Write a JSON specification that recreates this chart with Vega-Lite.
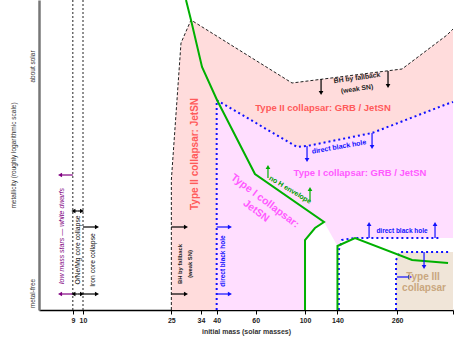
{
  "$schema": "https://vega.github.io/schema/vega-lite/v6.json",
  "width": 414,
  "height": 310,
  "autosize": {"type": "none"},
  "padding": {"left": 39, "top": 0, "right": 1, "bottom": 33},
  "background": "white",
  "config": {"view": {"stroke": null}, "font": "Liberation Sans"},
  "datasets": {
    "typeII": [
      {"x": 25, "y": 130}, {"x": 27.63, "y": 267}, {"x": 30.65, "y": 290}, {"x": 87.4, "y": 227},
      {"x": 273.5, "y": 241}, {"x": 436.2, "y": 275}, {"x": 464, "y": 281}
    ],
    "typeI": [
      {"x": 40, "y": 210}, {"x": 92, "y": 163}, {"x": 102.1, "y": 164}, {"x": 200.4, "y": 177},
      {"x": 436.2, "y": 206}, {"x": 464, "y": 208}
    ],
    "pairInstability": [
      {"x": 100, "y": 70}, {"x": 110.9, "y": 82}, {"x": 121.8, "y": 88}, {"x": 140, "y": 64},
      {"x": 146.8, "y": 70}, {"x": 168, "y": 72}, {"x": 464, "y": 72}
    ],
    "typeIII": [
      {"x": 257, "y": 50}, {"x": 267.9, "y": 58}, {"x": 464, "y": 58}
    ],
    "fallbackEdge": [
      {"i": 0, "x": 25, "y": 0}, {"i": 1, "x": 25, "y": 130}, {"i": 2, "x": 27.63, "y": 267},
      {"i": 3, "x": 30.65, "y": 290}, {"i": 4, "x": 87.4, "y": 227}, {"i": 5, "x": 273.5, "y": 241},
      {"i": 6, "x": 436.2, "y": 275}, {"i": 7, "x": 464, "y": 281}
    ],
    "coreEdges": [
      {"id": "9", "i": 0, "x": 9, "y": 0}, {"id": "9", "i": 1, "x": 9, "y": 310},
      {"id": "10", "i": 0, "x": 10, "y": 0}, {"id": "10", "i": 1, "x": 10, "y": 310}
    ],
    "directBH": [
      {"id": "A", "i": 0, "x": 40, "y": 0}, {"id": "A", "i": 1, "x": 40, "y": 210},
      {"id": "A", "i": 2, "x": 92, "y": 163}, {"id": "A", "i": 3, "x": 102.1, "y": 164},
      {"id": "A", "i": 4, "x": 200.4, "y": 177}, {"id": "A", "i": 5, "x": 436.2, "y": 206},
      {"id": "A", "i": 6, "x": 464, "y": 208},
      {"id": "B", "i": 0, "x": 142, "y": 0}, {"id": "B", "i": 1, "x": 142, "y": 60},
      {"id": "B", "i": 2, "x": 146.8, "y": 70}, {"id": "B", "i": 3, "x": 168, "y": 72},
      {"id": "B", "i": 4, "x": 405.6, "y": 72},
      {"id": "C", "i": 0, "x": 257, "y": 0}, {"id": "C", "i": 1, "x": 257, "y": 50},
      {"id": "C", "i": 2, "x": 267.9, "y": 58}, {"id": "C", "i": 3, "x": 450.1, "y": 58}
    ],
    "envelope": [
      {"id": "1", "i": 0, "x": 29.1, "y": 310}, {"id": "1", "i": 1, "x": 30.65, "y": 290},
      {"id": "1", "i": 2, "x": 34.36, "y": 243}, {"id": "1", "i": 3, "x": 40.14, "y": 210},
      {"id": "1", "i": 4, "x": 59.5, "y": 136}, {"id": "1", "i": 5, "x": 121.8, "y": 88},
      {"id": "1", "i": 6, "x": 110.9, "y": 82}, {"id": "1", "i": 7, "x": 100, "y": 70},
      {"id": "1", "i": 8, "x": 100, "y": 0},
      {"id": "2", "i": 0, "x": 140, "y": 0}, {"id": "2", "i": 1, "x": 140, "y": 64},
      {"id": "2", "i": 2, "x": 168, "y": 72}, {"id": "2", "i": 3, "x": 303.4, "y": 50},
      {"id": "2", "i": 4, "x": 440.8, "y": 47}
    ],
    "arrows": [
      {"x": 118.1, "y": 231, "x2": 118.1, "y2": 217, "g": "core", "dir": "down"},
      {"x": 236.5, "y": 239, "x2": 236.5, "y2": 224, "g": "core", "dir": "down"},
      {"x": 25, "y": 83, "x2": 29.1, "y2": 83, "g": "core", "dir": "right"},
      {"x": 25, "y": 16, "x2": 29.1, "y2": 16, "g": "core", "dir": "right"},
      {"x": 10, "y": 83, "x2": 11.56, "y2": 83, "g": "core", "dir": "right"},
      {"x": 10, "y": 16, "x2": 11.56, "y2": 16, "g": "core", "dir": "right"},
      {"x": 9.45, "y": 99, "x2": 9.05, "y2": 99, "g": "core", "dir": "left"},
      {"x": 9.45, "y": 99, "x2": 9.9, "y2": 99, "g": "core", "dir": "right"},
      {"x": 9.45, "y": 16, "x2": 9.05, "y2": 16, "g": "core", "dir": "left"},
      {"x": 9.45, "y": 16, "x2": 9.9, "y2": 16, "g": "core", "dir": "right"},
      {"x": 9, "y": 135, "x2": 7.88, "y2": 135, "g": "wd", "dir": "left"},
      {"x": 9, "y": 16, "x2": 7.88, "y2": 16, "g": "wd", "dir": "left"},
      {"x": 40, "y": 83, "x2": 45.9, "y2": 83, "g": "bh", "dir": "right"},
      {"x": 40, "y": 16, "x2": 45.9, "y2": 16, "g": "bh", "dir": "right"},
      {"x": 102.1, "y": 164, "x2": 102.1, "y2": 150, "g": "bh", "dir": "down"},
      {"x": 200.4, "y": 177, "x2": 200.4, "y2": 163, "g": "bh", "dir": "down"},
      {"x": 194.3, "y": 72, "x2": 194.3, "y2": 86, "g": "bh", "dir": "up"},
      {"x": 385.1, "y": 72, "x2": 385.1, "y2": 86, "g": "bh", "dir": "up"},
      {"x": 343.6, "y": 58, "x2": 343.6, "y2": 43, "g": "bh", "dir": "down"},
      {"x": 259.7, "y": 33, "x2": 297.2, "y2": 33, "g": "bh", "dir": "right"},
      {"x": 68.1, "y": 132, "x2": 68.1, "y2": 143, "g": "env", "dir": "up"},
      {"x": 105.3, "y": 109, "x2": 105.3, "y2": 121, "g": "env", "dir": "up"}
    ]
  },
  "encoding": {
    "x": {
      "field": "x", "type": "quantitative", "title": "initial mass (solar masses)",
      "scale": {"type": "log", "domain": [6.336, 464], "nice": false},
      "axis": {
        "values": [9, 10, 25, 34, 40, 60, 100, 140, 260, 463], "format": "d", "grid": false,
        "labelExpr": "datum.value > 400 ? '' : datum.label",
        "domainColor": "black", "domainWidth": 1.5, "tickColor": "black", "tickSize": 4,
        "labelFontSize": 7, "labelFontWeight": "bold", "labelColor": "#222", "labelPadding": 2,
        "titleFontSize": 7, "titleFontWeight": "bold", "titleColor": "#333", "titlePadding": 4
      }
    },
    "y": {
      "field": "y", "type": "quantitative", "title": "metallicity (roughly logarithmic scale)",
      "scale": {"domain": [0, 310], "nice": false, "zero": false},
      "axis": {
        "values": [17, 244], "grid": false, "ticks": false,
        "labelExpr": "datum.value > 100 ? 'about solar' : 'metal-free'",
        "labelAngle": -90, "labelAlign": "center", "labelBaseline": "bottom", "labelPadding": 4,
        "labelFontSize": 6.5, "labelColor": "#333",
        "domainColor": "#777", "domainWidth": 2.5,
        "titleFontSize": 6.5, "titleFontWeight": "normal", "titleColor": "#333", "titlePadding": 13
      }
    }
  },
  "layer": [
    {"data": {"name": "typeII"}, "mark": {"type": "area", "color": "#ffdcdc"}, "encoding": {"y2": {"datum": 0}}},
    {"data": {"name": "typeI"}, "mark": {"type": "area", "color": "#ffdeff"}, "encoding": {"y2": {"datum": 0}}},
    {"data": {"name": "pairInstability"}, "mark": {"type": "area", "color": "#ffffff"}, "encoding": {"y2": {"datum": 0}}},
    {"data": {"name": "typeIII"}, "mark": {"type": "area", "color": "#f0e5d8"}, "encoding": {"y2": {"datum": 0}}},
    {"data": {"name": "fallbackEdge"}, "mark": {"type": "line", "color": "#222", "strokeWidth": 1, "strokeDash": [3, 2]}, "encoding": {"order": {"field": "i"}}},
    {"data": {"name": "coreEdges"}, "mark": {"type": "line", "color": "#222", "strokeWidth": 1, "strokeDash": [2, 2]}, "encoding": {"order": {"field": "i"}, "detail": {"field": "id"}}},
    {"data": {"name": "directBH"}, "mark": {"type": "line", "color": "#1010ff", "strokeWidth": 2, "strokeDash": [2, 3]}, "encoding": {"order": {"field": "i"}, "detail": {"field": "id"}}},
    {"data": {"name": "envelope"}, "mark": {"type": "line", "color": "#00b000", "strokeWidth": 2}, "encoding": {"order": {"field": "i"}, "detail": {"field": "id"}}},
    {
      "data": {"name": "arrows"}, "mark": {"type": "rule", "strokeWidth": 1.2},
      "encoding": {
        "x2": {"field": "x2"}, "y2": {"field": "y2"},
        "color": {"field": "g", "type": "nominal", "legend": null,
          "scale": {"domain": ["core", "wd", "bh", "env"], "range": ["#000000", "#800080", "#1010ff", "#00b000"]}}
      }
    },
    {
      "data": {"name": "arrows"}, "mark": {"type": "point", "filled": true, "opacity": 1, "size": 22},
      "encoding": {
        "x": {"field": "x2", "type": "quantitative", "title": "initial mass (solar masses)"},
        "y": {"field": "y2", "type": "quantitative", "title": "metallicity (roughly logarithmic scale)"},
        "shape": {"field": "dir", "type": "nominal", "legend": null,
          "scale": {"domain": ["up", "down", "left", "right"], "range": ["triangle-up", "triangle-down", "triangle-left", "triangle-right"]}},
        "color": {"field": "g", "type": "nominal", "legend": null,
          "scale": {"domain": ["core", "wd", "bh", "env"], "range": ["#000000", "#800080", "#1010ff", "#00b000"]}}
      }
    },
    {
      "data": {"values": [{"x": 120.5, "y": 202, "t": "Type II collapsar: GRB / JetSN"}]},
      "mark": {"type": "text", "fontSize": 9.5, "fontWeight": "bold", "color": "#ff5a5a"},
      "encoding": {"text": {"field": "t"}}
    },
    {
      "data": {"values": [{"x": 176.9, "y": 137, "t": "Type I collapsar: GRB / JetSN"}]},
      "mark": {"type": "text", "fontSize": 9.5, "fontWeight": "bold", "color": "#ff5aff"},
      "encoding": {"text": {"field": "t"}}
    },
    {
      "data": {"values": [{"x": 31.9, "y": 156, "t": "Type II collapsar: JetSN"}]},
      "mark": {"type": "text", "fontSize": 10, "fontWeight": "bold", "color": "#ff5a5a", "angle": 270},
      "encoding": {"text": {"field": "t"}}
    },
    {
      "data": {"values": [{"x": 66.0, "y": 109, "t": "Type I collapsar:"}, {"x": 60.2, "y": 99, "t": "JetSN"}]},
      "mark": {"type": "text", "fontSize": 10.5, "fontWeight": "bold", "color": "#ff5aff", "angle": 37},
      "encoding": {"text": {"field": "t"}}
    },
    {
      "data": {"values": [{"x": 171.5, "y": 232, "t": "BH by fallback"}, {"x": 171.5, "y": 221, "t": "(weak SN)"}]},
      "mark": {"type": "text", "fontSize": 6.8, "fontWeight": "bold", "color": "#222", "angle": -8},
      "encoding": {"text": {"field": "t"}}
    },
    {
      "data": {"values": [{"x": 142.3, "y": 163, "t": "direct black hole"}]},
      "mark": {"type": "text", "fontSize": 7, "fontWeight": "bold", "color": "#1010ff", "angle": -10},
      "encoding": {"text": {"field": "t"}}
    },
    {
      "data": {"values": [{"x": 85.6, "y": 120, "t": "no H envelope"}]},
      "mark": {"type": "text", "fontSize": 7, "fontWeight": "bold", "color": "#00a000", "angle": 31},
      "encoding": {"text": {"field": "t"}}
    },
    {
      "data": {"values": [{"x": 27.35, "y": 46, "t": "BH by fallback"}, {"x": 30.34, "y": 46, "t": "(weak SN)"}]},
      "mark": {"type": "text", "fontSize": 5.8, "fontWeight": "bold", "color": "#222", "angle": 270},
      "encoding": {"text": {"field": "t"}}
    },
    {
      "data": {"values": [{"x": 42.7, "y": 49, "t": "direct black hole"}]},
      "mark": {"type": "text", "fontSize": 6.5, "fontWeight": "bold", "color": "#1010ff", "angle": 270},
      "encoding": {"text": {"field": "t"}}
    },
    {
      "data": {"values": [{"x": 273.5, "y": 79, "t": "direct black hole"}]},
      "mark": {"type": "text", "fontSize": 6.5, "fontWeight": "bold", "color": "#1010ff"},
      "encoding": {"text": {"field": "t"}}
    },
    {
      "data": {"values": [{"x": 340.1, "y": 33, "t": "Type III"}, {"x": 343.6, "y": 22, "t": "collapsar"}]},
      "mark": {"type": "text", "fontSize": 10, "fontWeight": "bold", "color": "#c9a77f"},
      "encoding": {"text": {"field": "t"}}
    },
    {
      "data": {"values": [{"x": 8.04, "y": 74, "t": "low mass stars — white dwarfs"}]},
      "mark": {"type": "text", "fontSize": 7, "fontStyle": "italic", "color": "#800080", "angle": 270},
      "encoding": {"text": {"field": "t"}}
    },
    {
      "data": {"values": [{"x": 9.5, "y": 60, "t": "O/Ne/Mg core collapse"}, {"x": 11.09, "y": 50, "t": "Iron core collapse"}]},
      "mark": {"type": "text", "fontSize": 6.8, "color": "#111", "angle": 270},
      "encoding": {"text": {"field": "t"}}
    },
    {
      "data": {"values": [{}]},
      "mark": {"type": "point", "shape": "triangle-up", "filled": true, "opacity": 1, "size": 40, "color": "#333"},
      "encoding": {"x": {"datum": 6.336, "type": "quantitative"}, "y": {"datum": 305, "type": "quantitative"}}
    }
  ]
}
